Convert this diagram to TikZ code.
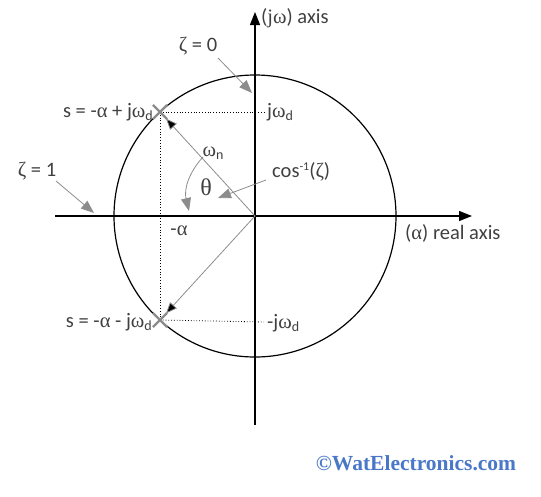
\documentclass[tikz,border=0pt]{standalone}
\usepackage{fontspec}
\setmainfont{Carlito}
\newfontfamily\gk{Liberation Serif}
\newfontfamily\wm{Liberation Serif}
\usetikzlibrary{arrows.meta,shapes.misc}
\definecolor{txt}{HTML}{404040}
\definecolor{gr}{HTML}{8C8C8C}
\definecolor{wmblue}{HTML}{4A78C8}
\newcommand{\sbd}[1]{\raisebox{-0.3ex}{\fontsize{14}{14}\selectfont #1}}
\begin{document}
\begin{tikzpicture}[x=1pt,y=-1pt,
  lbl/.style={inner sep=0pt, text=txt, font=\fontsize{20.5}{22}\selectfont},
  axis/.style={line width=1.4pt, -{Triangle[length=13pt,width=10pt]}},
  garrow/.style={draw=gr, line width=0.8pt, -{Triangle[length=13pt,width=10pt,fill=gr]}},
  barrow/.style={draw=gr, line width=0.8pt, -{Triangle[length=11pt,width=9pt,fill=black]}},
  dots/.style={dotted, line width=0.8pt},
  xmark/.style={cross out, draw=gr, line width=2.2pt, minimum size=12pt, inner sep=0pt}]
\useasboundingbox (0,0) rectangle (541,496);
\coordinate (O) at (255,216);
\coordinate (P) at (160,112);
\coordinate (Q) at (160,320);
\coordinate (xl) at (55,216);
\coordinate (xr) at (472,216);
\coordinate (yb) at (255,425);
\coordinate (yt) at (255,12);
\coordinate (pd) at (264,112);
\coordinate (qd) at (264,322);
% circle and axes
\draw[line width=1.2pt] (O) circle[radius=141pt];
\draw[axis] (xl) -- (xr);
\draw[axis] (yb) -- (yt);
% dotted projections
\draw[dots] (P) -- (pd);
\draw[dots] (Q) -- (qd);
\draw[dots] (P) -- (Q);
% radius vectors
\draw[barrow, shorten >=9pt] (O) -- (P);
\draw[barrow, shorten >=9pt] (O) -- (Q);
\node[xmark] (xp) at (P) {};
\node[xmark] (xq) at (Q) {};
% theta arc
\coordinate (a1) at (203,157);
\coordinate (a2) at (189,211);
\draw[garrow] (a1) to[bend right=28] (a2);
% labels
\node[lbl, anchor=west] (jwax) at (261,18) {({\gk j\char"03C9}) axis};
\node[lbl] (z0) at (198,46) {{\gk\char"03B6} = 0};
\node[lbl] (z1) at (37,171) {{\gk\char"03B6} = 1};
\node[lbl, anchor=east] (sp) at (153,112) {s = -{\gk\char"03B1} + j{\gk\char"03C9}\sbd{d}};
\node[lbl, anchor=west] (jwd) at (267,112) {j{\gk\char"03C9}\sbd{d}};
\node[lbl] (wn) at (213,153) {{\gk\char"03C9}\sbd{n}};
\node[lbl] (th) at (206,187) {\fontsize{24}{26}\selectfont\gk\char"03B8};
\node[lbl, anchor=west] (cs) at (272,172) {cos\raisebox{0.8ex}{\fontsize{12}{12}\selectfont -1}({\gk\char"03B6})};
\node[lbl] (ma) at (179,231) {-{\gk\char"03B1}};
\node[lbl, anchor=west] (rax) at (405,233) {({\gk\char"03B1}) real axis};
\node[lbl, anchor=east] (sq) at (152,322) {s = -{\gk\char"03B1} - j{\gk\char"03C9}\sbd{d}};
\node[lbl, anchor=west] (mjwd) at (267,323) {-j{\gk\char"03C9}\sbd{d}};
\node[inner sep=0pt, text=wmblue, font=\wm\bfseries\fontsize{21.5}{23}\selectfont] (wmk) at (416,463) {\char"00A9WatElectronics.com};
% pointer arrows
\coordinate (z0s) at (218,58);
\coordinate (z0e) at (252,93);
\coordinate (z1s) at (56,181);
\coordinate (z1e) at (94,213);
\coordinate (css) at (266,180);
\coordinate (cse) at (218,198);
\draw[garrow] (z0s) -- (z0e);
\draw[garrow] (z1s) -- (z1e);
\draw[garrow] (css) -- (cse);
\end{tikzpicture}
\end{document}
